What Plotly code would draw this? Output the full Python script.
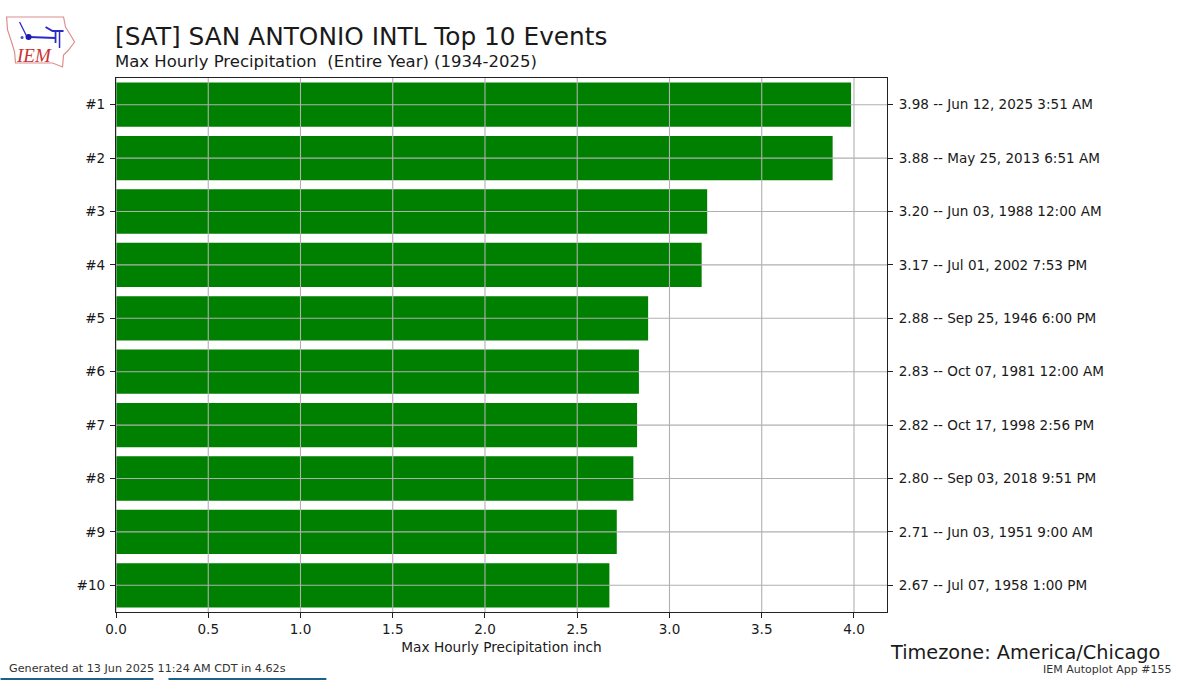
import plotly.graph_objects as go

ranks = ["#1", "#2", "#3", "#4", "#5", "#6", "#7", "#8", "#9", "#10"]
values = [3.98, 3.88, 3.20, 3.17, 2.88, 2.83, 2.82, 2.80, 2.71, 2.67]
events = ["3.98 -- Jun 12, 2025 3:51 AM", "3.88 -- May 25, 2013 6:51 AM",
          "3.20 -- Jun 03, 1988 12:00 AM", "3.17 -- Jul 01, 2002 7:53 PM",
          "2.88 -- Sep 25, 1946 6:00 PM", "2.83 -- Oct 07, 1981 12:00 AM",
          "2.82 -- Oct 17, 1998 2:56 PM", "2.80 -- Sep 03, 2018 9:51 PM",
          "2.71 -- Jun 03, 1951 9:00 AM", "2.67 -- Jul 07, 1958 1:00 PM"]
x_ticks = [0.0, 0.5, 1.0, 1.5, 2.0, 2.5, 3.0, 3.5, 4.0]

W, H = 1200, 680
L, R, T, B = 115.5, 887.0, 78.0, 612.0
FONT = "DejaVu Sans"
INK = "#1a1a1a"

def px(x):
    return (x - L) / (R - L)

def py(y):
    return (B - y) / (B - T)

positions = list(range(len(ranks)))
fig = go.Figure()
fig.add_trace(go.Bar(y=positions, x=values, orientation="h", width=0.8,
                     marker=dict(color="#008000", line=dict(color="#008000", width=1.6)),
                     hoverinfo="skip", yaxis="y"))
fig.add_trace(go.Scatter(y=positions, x=values, mode="markers", marker=dict(opacity=0),
                         yaxis="y2", showlegend=False, hoverinfo="skip"))

shapes = []
for t in x_ticks:
    shapes.append(dict(type="line", xref="x", yref="paper", x0=t, x1=t, y0=0, y1=1,
                       line=dict(color="#b0b0b0", width=1.1), layer="above"))
for i in positions:
    shapes.append(dict(type="line", xref="paper", yref="y", x0=0, x1=1, y0=i, y1=i,
                       line=dict(color="#b0b0b0", width=1.1), layer="above"))

def path(points, close=True):
    s = "M " + " L ".join(f"{px(a):.5f},{py(b):.5f}" for a, b in points)
    return s + (" Z" if close else "")

# logo: state outline
outline = [(6, 17), (63, 17), (65, 27), (70, 35), (74, 42), (68, 50), (63, 55), (62, 67),
           (52, 63), (15, 63), (14, 52), (11, 42), (7, 30)]
shapes.append(dict(type="path", xref="paper", yref="paper", path=path(outline),
                   line=dict(color="#dc8f8f", width=1.2), fillcolor="white", layer="above"))
for pts, w in [([(28, 37), (55, 38)], 2.2),
               ([(45, 27), (52, 31), (63, 31)], 2),
               ([(55, 32), (55, 43)], 1.8), ([(59, 32), (59, 48)], 1.5),
               ([(19, 22), (22, 28), (26, 36)], 1.3)]:
    shapes.append(dict(type="path", xref="paper", yref="paper", path=path(pts, False),
                       line=dict(color="#2a2ac8", width=w), layer="above"))
shapes.append(dict(type="circle", xref="paper", yref="paper", x0=px(25), x1=px(31), y0=py(40), y1=py(34),
                   fillcolor="#1c1ca8", line_width=0, layer="above"))
shapes.append(dict(type="circle", xref="paper", yref="paper", x0=px(20), x1=px(23), y0=py(39), y1=py(36),
                   fillcolor="#4a4ac8", line_width=0, layer="above"))

# tabs cut off by the bottom edge
for a, b in [(0, 153), (168, 326)]:
    shapes.append(dict(type="rect", xref="paper", yref="paper", x0=px(a), x1=px(b), y0=py(680), y1=py(678),
                       fillcolor="#1f5f8b", line_width=0, layer="above"))

def note(text, x, y, size, anchor="left", color=INK, **kw):
    return dict(text=text, xref="paper", yref="paper", x=px(x), y=py(y), xanchor=anchor, yanchor="middle",
                showarrow=False, font=dict(family=kw.pop("family", FONT), size=size, color=color),
                borderpad=0, **kw)

annotations = [
    note("[SAT] SAN ANTONIO INTL Top 10 Events", 113, 37, 24.8),
    note("Max Hourly Precipitation  (Entire Year) (1934-2025)", 113, 62, 16.5),
    note("Timezone: America/Chicago", 1161, 652, 19.3, anchor="right"),
    note("IEM Autoplot App #155", 1173, 669, 11, anchor="right", color="#333333"),
    note("Generated at 13 Jun 2025 11:24 AM CDT in 4.62s", 7, 668, 11.2, color="#333333"),
    note("<i>IEM</i>", 33, 55, 19, anchor="center", color="#cc3333", family="Liberation Serif"),
]

axis_font = dict(family=FONT, size=13.55, color=INK)
title_font = dict(family=FONT, size=13.7, color=INK)
fig.update_layout(
    width=W, height=H, paper_bgcolor="white", plot_bgcolor="white", showlegend=False,
    margin=dict(l=L, r=W - R, t=T, b=H - B, pad=0), bargap=0.2,
    shapes=shapes, annotations=annotations,
    xaxis=dict(range=[0, 4.179], tickvals=x_ticks, ticktext=[f"{t:.1f}" for t in x_ticks],
               showgrid=False, zeroline=False, ticks="outside", ticklen=5, tickwidth=1, tickcolor="#222",
               showline=True, linecolor="#222", linewidth=1.2, mirror=True, tickfont=axis_font,
               title=dict(text="Max Hourly Precipitation inch", font=title_font, standoff=6)),
    yaxis=dict(range=[9.5, -0.5], tickvals=positions, ticktext=ranks, showgrid=False, zeroline=False,
               ticks="outside", ticklen=5, tickwidth=1, tickcolor="#222", showline=True, linecolor="#222",
               linewidth=1.2, mirror=True, tickfont=axis_font, ticklabelstandoff=2),
    yaxis2=dict(range=[9.5, -0.5], overlaying="y", side="right", tickvals=positions, ticktext=events,
                showgrid=False, zeroline=False, ticks="outside", ticklen=5, tickwidth=1, tickcolor="#222",
                tickfont=axis_font, ticklabelstandoff=3),
)
fig.write_html("out.html", config={"displayModeBar": False},
               post_script="document.body.style.margin='0';")
